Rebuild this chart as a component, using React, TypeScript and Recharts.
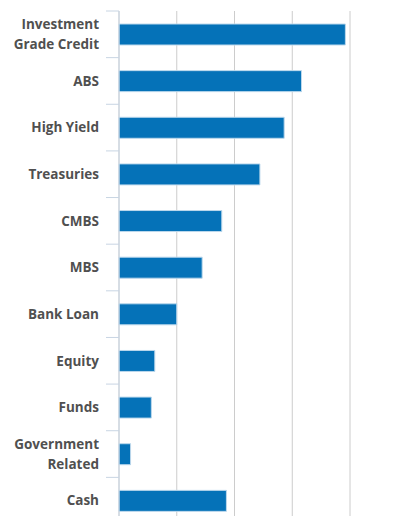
import { BarChart, Bar, XAxis, YAxis, CartesianGrid } from "recharts";

const categories = [
  "Investment Grade Credit",
  "ABS",
  "High Yield",
  "Treasuries",
  "CMBS",
  "MBS",
  "Bank Loan",
  "Equity",
  "Funds",
  "Government Related",
  "Cash",
];

const weights = [19.6, 15.8, 14.3, 12.2, 8.9, 7.2, 5.0, 3.1, 2.8, 1.0, 9.3];

const xTicks = [0, 5, 10, 15, 20];

const labelLines: Record<string, string[]> = {
  "Investment Grade Credit": ["Investment", "Grade Credit"],
  "Government Related": ["Government", "Related"],
};

const data = categories.map((name, i) => ({ name, value: weights[i] }));

const CHART_H = 516;
const MARGIN_TOP = 3;
const BAND = (CHART_H - MARGIN_TOP) / categories.length;

const CategoryTick = (props: any) => {
  const { x, y, payload, index } = props;
  const lines = labelLines[payload.value] || [payload.value];
  const start = -((lines.length - 1) * 20) / 2;
  const isLast = index === categories.length - 1;
  return (
    <g>
      <line x1={x + 7} x2={x + 20} y1={y - BAND / 2} y2={y - BAND / 2} stroke="#c8d5e3" strokeWidth={1} />
      {isLast && (
        <line x1={x + 7} x2={x + 20} y1={y + BAND / 2} y2={y + BAND / 2} stroke="#c8d5e3" strokeWidth={1} />
      )}
      <text
        x={x}
        y={y}
        textAnchor="end"
        fill="#505050"
        fontSize={13.5}
        fontWeight={700}
        fontFamily="'Open Sans', sans-serif"
      >
        {lines.map((l: string, i: number) => (
          <tspan key={l} x={x} dy={i === 0 ? start + 4.8 : 20}>
            {l}
          </tspan>
        ))}
      </text>
    </g>
  );
};

export default function App() {
  return (
    <div style={{ width: 395, height: 508, overflow: "hidden" }}>
      <BarChart
        width={395}
        height={CHART_H}
        data={data}
        layout="vertical"
        margin={{ top: MARGIN_TOP, right: 53, bottom: 0, left: 0 }}
        barCategoryGap={0}
      >
        <CartesianGrid horizontal={false} stroke="#cccccc" strokeWidth={1} />
        <XAxis type="number" domain={[0, 20]} ticks={xTicks} hide />
        <YAxis
          type="category"
          dataKey="name"
          width={111}
          axisLine={{ stroke: "#c8d5e3", strokeWidth: 1 }}
          tickLine={false}
          tickSize={0}
          tickMargin={20}
          interval={0}
          tick={<CategoryTick />}
        />
        <Bar
          dataKey="value"
          fill="#0572b8"
          stroke="#bcd8ec"
          strokeWidth={1}
          barSize={21}
          isAnimationActive={false}
        />
      </BarChart>
    </div>
  );
}
